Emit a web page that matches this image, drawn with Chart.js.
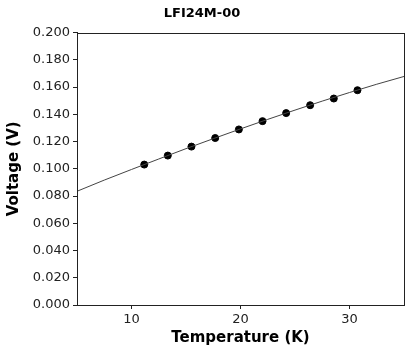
<!DOCTYPE html>
<html>
<head>
<meta charset="utf-8">
<script src="https://cdn.jsdelivr.net/npm/chart.js@4/dist/chart.umd.min.js"></script>
<style>
  html, body { margin: 0; padding: 0; background: #fff; }
  #wrap { width: 409px; height: 352px; }
</style>
</head>
<body>
<div id="wrap"><canvas id="myChart"></canvas></div>
<script>
// measured points
const temps = [11.17, 13.33, 15.5, 17.68, 19.85, 22.02, 24.19, 26.39, 28.56, 30.73];
const volts = [0.1031, 0.1097, 0.1163, 0.1226, 0.1289, 0.1350, 0.1409, 0.1467, 0.1516, 0.1577];
// fit curve
const fitTemps = [5, 7.5, 10, 12.5, 15, 17.5, 20, 22.5, 25, 27.5, 30, 32.5, 35];
const fitVolts = [0.0835, 0.0917, 0.0995, 0.1072, 0.1148, 0.1221, 0.1293, 0.1363, 0.1431, 0.1497, 0.1560, 0.1621, 0.1678];
const xTicks = [10, 20, 30];
const yTicks = [0, 0.02, 0.04, 0.06, 0.08, 0.10, 0.12, 0.14, 0.16, 0.18, 0.20];

const frame = {
  id: 'frame',
  afterDraw(chart) {
    const a = chart.chartArea, c = chart.ctx;
    c.save();
    c.strokeStyle = '#222';
    c.lineWidth = 1;
    c.strokeRect(Math.round(a.left) + 0.5, Math.round(a.top) + 0.5, Math.round(a.right - a.left), Math.round(a.bottom - a.top));
    c.restore();
  }
};

Chart.defaults.font.family = '"DejaVu Sans", sans-serif';
Chart.defaults.color = '#222';

const ctx = document.getElementById('myChart');
new Chart(ctx, {
  type: 'scatter',
  data: {
    datasets: [{
      label: 'fit',
      data: fitTemps.map((t, i) => ({x: t, y: fitVolts[i]})),
      showLine: true,
      borderColor: '#444',
      borderWidth: 1,
      pointRadius: 0,
      cubicInterpolationMode: 'monotone'
    }, {
      label: 'data',
      data: temps.map((t, i) => ({x: t, y: volts[i]})),
      backgroundColor: '#000',
      borderColor: '#000',
      pointRadius: 3.5
    }]
  },
  options: {
    responsive: true,
    maintainAspectRatio: false,
    animation: false,
    layout: { padding: { left: 0, right: 5, top: 0, bottom: 0 } },
    plugins: {
      legend: { display: false },
      tooltip: { enabled: false },
      title: {
        display: true,
        text: 'LFI24M-00',
        font: { size: 13, weight: 'bold' },
        color: '#000',
        padding: { top: 6, bottom: 11 }
      }
    },
    scales: {
      x: {
        type: 'linear',
        min: 5,
        max: 35,
        afterBuildTicks: s => { s.ticks = xTicks.map(v => ({value: v})); },
        afterFit: s => { s.height = 47; },
        grid: { display: true, drawOnChartArea: false, drawTicks: true, tickLength: 4, color: '#222' },
        border: { display: true, color: '#222' },
        ticks: { font: { size: 13 }, padding: 3, maxRotation: 0 },
        title: { display: true, text: 'Temperature (K)', font: { size: 15, weight: 'bold' }, color: '#000', padding: { top: 2, bottom: 5 } }
      },
      y: {
        type: 'linear',
        min: 0,
        max: 0.2,
        afterBuildTicks: s => { s.ticks = yTicks.map(v => ({value: v})); },
        afterFit: s => { s.width = 77; },
        grid: { display: true, drawOnChartArea: false, drawTicks: true, tickLength: 4, color: '#222' },
        border: { display: true, color: '#222' },
        ticks: { font: { size: 13 }, padding: 3, callback: v => v.toFixed(3) },
        title: { display: true, text: 'Voltage (V)', font: { size: 15, weight: 'bold' }, color: '#000', padding: { top: 5, bottom: 4 } }
      }
    }
  },
  plugins: [frame]
});
</script>
</body>
</html>
